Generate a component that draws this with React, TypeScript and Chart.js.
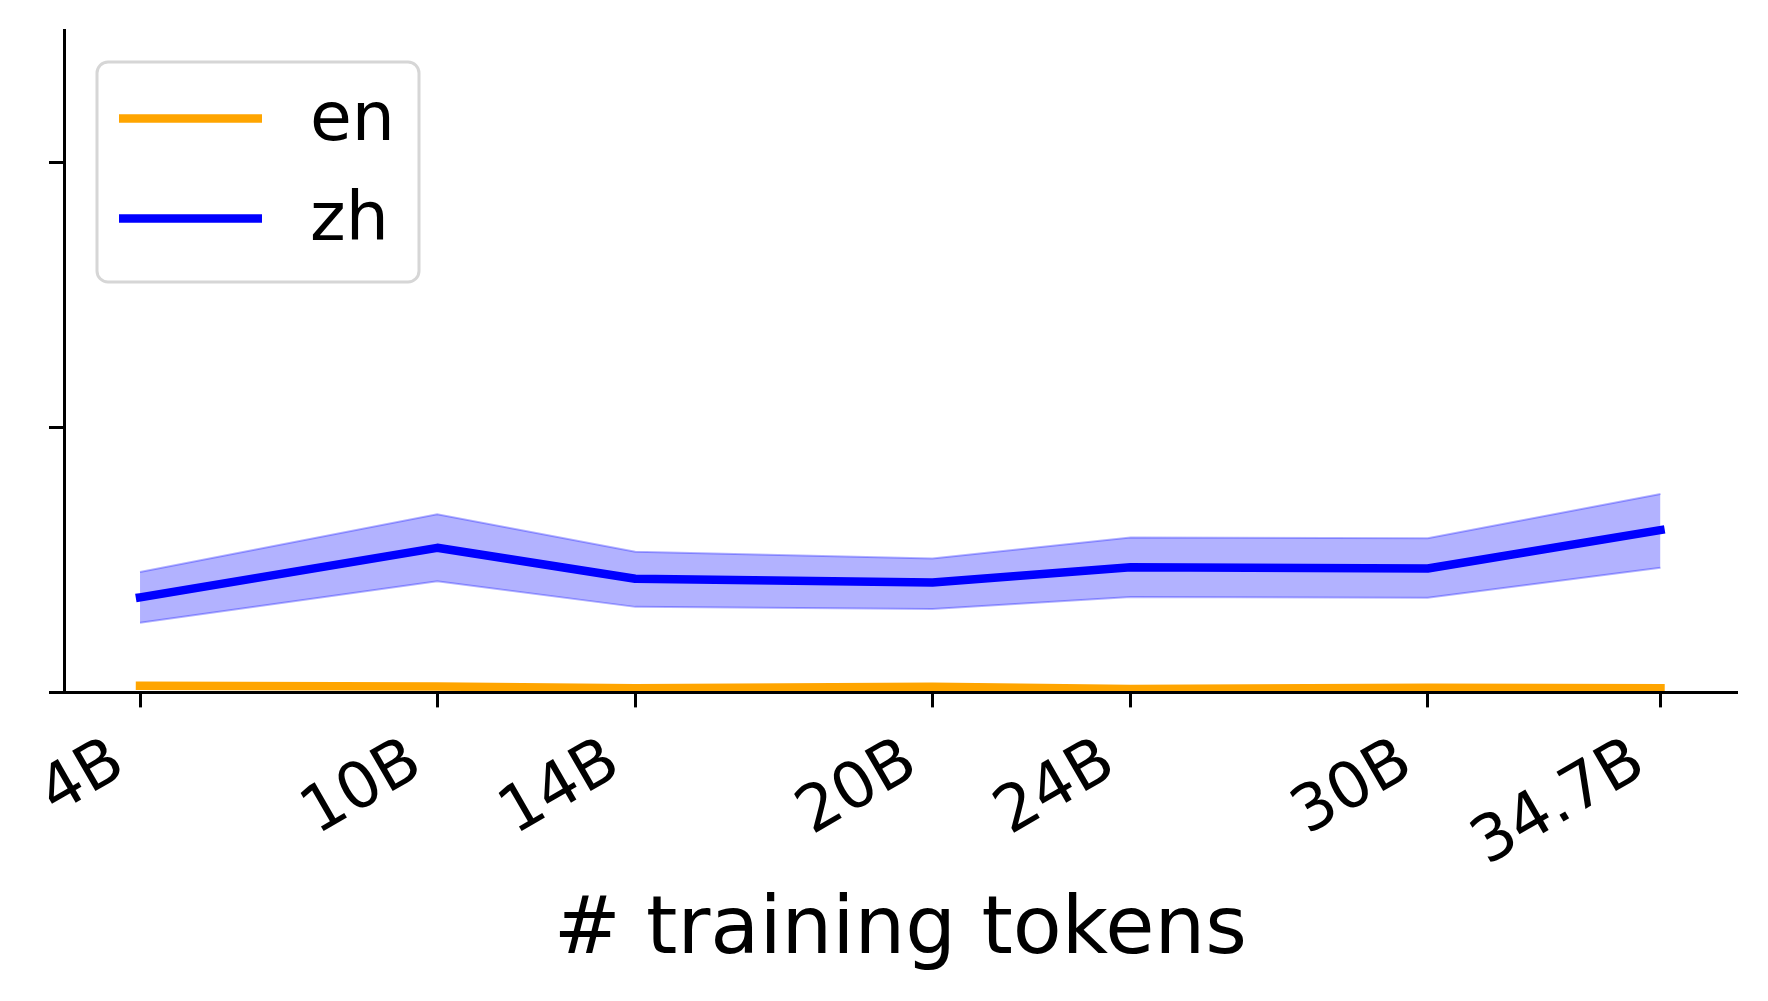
import React, { useEffect, useRef } from 'react';
import { Chart, registerables } from 'chart.js';

Chart.register(...registerables);

// ---- data ----
const tokensB = [4, 10, 14, 20, 24, 30, 34.7];
const xTickLabels = ['4B', '10B', '14B', '20B', '24B', '30B', '34.7B'];
const enMean = [0.025, 0.022, 0.016, 0.021, 0.013, 0.018, 0.016];
const zhMean = [0.359, 0.546, 0.429, 0.415, 0.473, 0.468, 0.613];
const zhUpper = [0.455, 0.673, 0.531, 0.506, 0.585, 0.582, 0.749];
const zhLower = [0.263, 0.42, 0.323, 0.315, 0.36, 0.357, 0.471];
const yTickValues = [0, 1, 2];
const seriesNames = ['en', 'zh'];
const xTitle = '# training tokens';

const FONT = "'DejaVu Sans', sans-serif";
const W = 1768;
const H = 1001;

const pts = (ys: number[]) => tokensB.map((x, i) => ({ x, y: ys[i] }));

// Rotated x tick labels (matplotlib style: rotation=30, ha='right')
const rotatedXTicks = {
  id: 'rotatedXTicks',
  afterDraw(chart: any) {
    const s = chart.scales.x;
    const ctx = chart.ctx as CanvasRenderingContext2D;
    ctx.save();
    ctx.font = `64px ${FONT}`;
    ctx.fillStyle = '#000';
    ctx.textAlign = 'right';
    ctx.textBaseline = 'alphabetic';
    s.ticks.forEach((t: any, i: number) => {
      const x = s.getPixelForValue(t.value);
      ctx.save();
      ctx.translate(x - 12, s.top + 80);
      ctx.rotate(-Math.PI / 6);
      ctx.fillText(xTickLabels[i], 0, 0);
      ctx.restore();
    });
    ctx.restore();
  },
};

const boxLegend = {
  id: 'boxLegend',
  afterDraw(chart: any) {
    const ctx = chart.ctx as CanvasRenderingContext2D;
    const items = seriesNames
      .map((n) => chart.data.datasets.find((d: any) => d.label === n))
      .filter(Boolean);
    ctx.save();
    const bx = 97, by = 62, bw = 322, bh = 220, r = 11;
    ctx.beginPath();
    (ctx as any).roundRect(bx, by, bw, bh, r);
    ctx.fillStyle = 'rgba(255,255,255,0.8)';
    ctx.fill();
    ctx.lineWidth = 3;
    ctx.strokeStyle = '#d6d6d6';
    ctx.stroke();
    items.forEach((d: any, i: number) => {
      const y = 118.5 + i * 100;
      ctx.beginPath();
      ctx.moveTo(119, y);
      ctx.lineTo(262, y);
      ctx.strokeStyle = d.borderColor;
      ctx.lineWidth = 8.5;
      ctx.lineCap = 'butt';
      ctx.stroke();
      ctx.fillStyle = '#000';
      ctx.font = `68px ${FONT}`;
      ctx.textBaseline = 'middle';
      ctx.textAlign = 'left';
      ctx.fillText(d.label, 310, y + 4);
    });
    ctx.restore();
  },
};

export default function App() {
  const ref = useRef<HTMLCanvasElement | null>(null);

  useEffect(() => {
    if (!ref.current) return;
    const tickGrid = {
      display: true,
      drawOnChartArea: false,
      drawTicks: true,
      tickLength: 15,
      tickWidth: 3,
      tickColor: '#000',
      color: '#000',
      lineWidth: 3,
    };
    const chart = new Chart(ref.current, {
      type: 'line',
      data: {
        datasets: [
          {
            label: 'zh',
            data: pts(zhMean),
            borderColor: '#0000FF',
            backgroundColor: '#0000FF',
            borderWidth: 8.5,
            pointRadius: 0,
            fill: false,
            tension: 0,
            borderCapStyle: 'square',
            borderJoinStyle: 'round',
          },
          {
            label: 'zh_upper',
            data: pts(zhUpper),
            borderColor: 'rgba(0,0,255,0.3)',
            backgroundColor: 'rgba(0,0,255,0.3)',
            borderWidth: 2,
            pointRadius: 0,
            fill: '+1',
            tension: 0,
          },
          {
            label: 'zh_lower',
            data: pts(zhLower),
            borderColor: 'rgba(0,0,255,0.3)',
            backgroundColor: 'rgba(0,0,255,0.3)',
            borderWidth: 2,
            pointRadius: 0,
            fill: false,
            tension: 0,
          },
          {
            label: 'en',
            data: pts(enMean),
            borderColor: '#FFA500',
            backgroundColor: '#FFA500',
            borderWidth: 8.5,
            pointRadius: 0,
            fill: false,
            tension: 0,
            borderCapStyle: 'square',
            borderJoinStyle: 'round',
          },
        ],
      },
      options: {
        responsive: false,
        animation: false,
        devicePixelRatio: 1,
        layout: { padding: { top: 30.4, right: 31.5, left: 0, bottom: 0 } },
        plugins: {
          legend: { display: false },
          tooltip: { enabled: false },
        },
        scales: {
          x: {
            type: 'linear',
            min: 2.465,
            max: 36.235,
            afterBuildTicks: (s: any) => {
              s.ticks = tokensB.map((v) => ({ value: v }));
            },
            afterFit: (s: any) => {
              s.height = 308.6;
            },
            grid: tickGrid,
            border: { display: true, color: '#000', width: 3, z: 1 },
            ticks: { display: false, autoSkip: false },
            title: {
              display: true,
              text: xTitle,
              color: '#000',
              font: { family: FONT, size: 80 },
              padding: { top: 0, bottom: 21 },
            },
          },
          y: {
            type: 'linear',
            min: 0,
            max: 2.5,
            afterBuildTicks: (s: any) => {
              s.ticks = yTickValues.map((v) => ({ value: v }));
            },
            afterFit: (s: any) => {
              s.width = 64;
            },
            grid: tickGrid,
            border: { display: true, color: '#000', width: 3, z: 1 },
            ticks: { display: false },
          },
        },
      },
      plugins: [rotatedXTicks, boxLegend],
    } as any);
    return () => chart.destroy();
  }, []);

  return (
    <div style={{ position: 'absolute', left: 0, top: 0, width: W, height: H, background: '#fff' }}>
      <canvas ref={ref} width={W} height={H} style={{ display: 'block', width: W, height: H }} />
    </div>
  );
}
